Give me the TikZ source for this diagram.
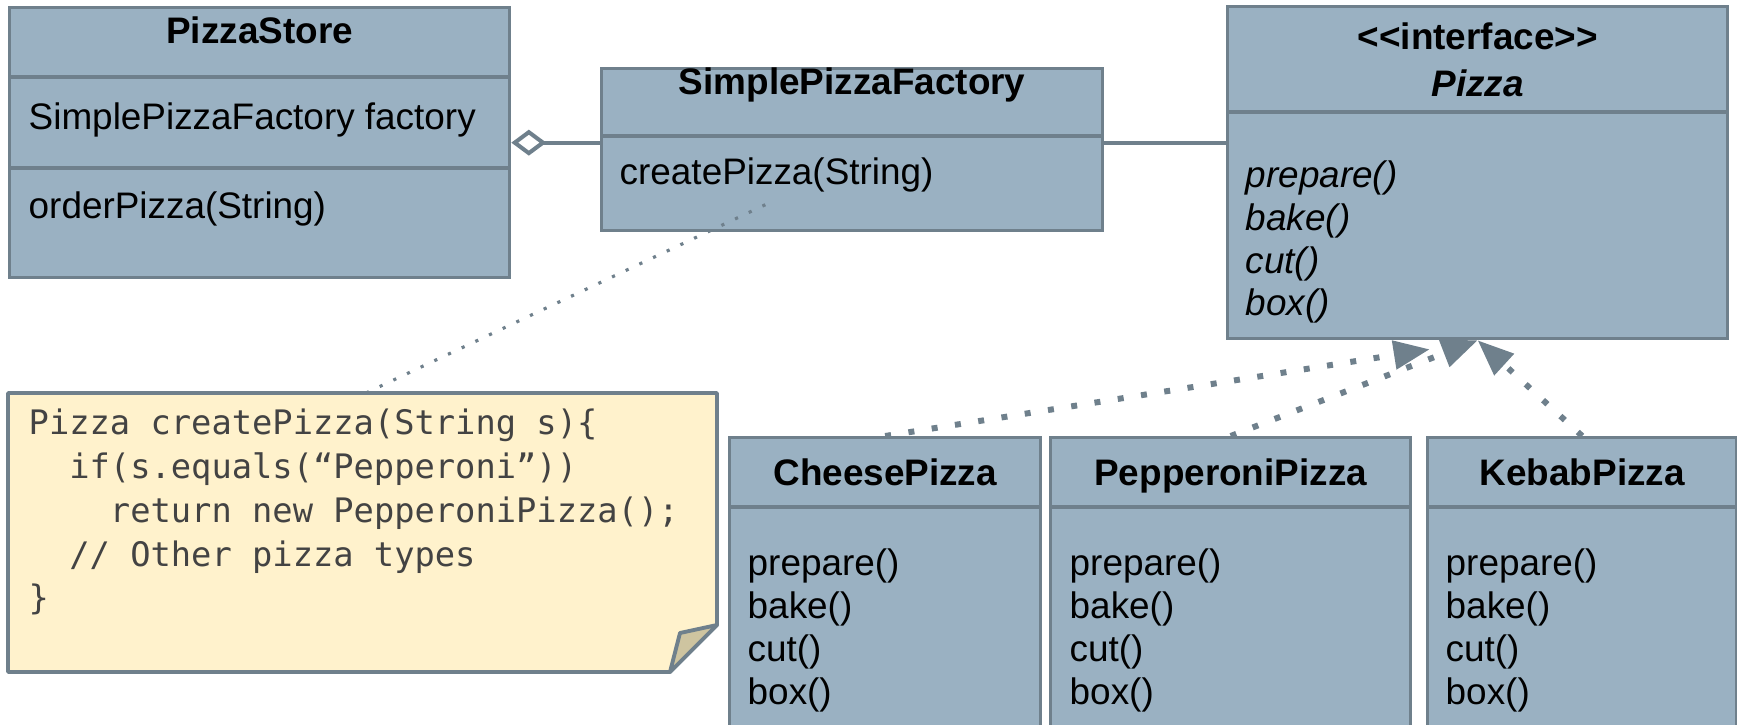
\documentclass[tikz,border=0pt]{standalone}
\usepackage{fontspec}
\setmainfont{Liberation Sans}
\newfontfamily\codefont{DejaVu Sans Mono}
\usepackage{tikz}
\usetikzlibrary{positioning}
\usetikzlibrary{backgrounds}
\usetikzlibrary{calc}
\usetikzlibrary{arrows.meta}

\definecolor{boxfill}{RGB}{154,177,194}
\definecolor{boxline}{RGB}{111,128,140}
\definecolor{notefill}{RGB}{255,242,204}
\definecolor{foldfill}{RGB}{206,196,160}
\definecolor{codegray}{RGB}{67,67,67}

\begin{document}
\begin{tikzpicture}[x=0.1mm,y=-0.1mm,
		umlbox/.style={rectangle,draw=boxline,fill=boxfill,line width=0.95pt,anchor=north west,inner sep=0pt},
		umltitle/.style={anchor=base,inner sep=0pt,align=center,font=\fontsize{10.5}{12.6}\selectfont\bfseries},
		umltext/.style={anchor=base west,inner sep=0pt,align=left,font=\fontsize{10.5}{12.3}\selectfont},
		divider/.style={draw=boxline,line width=1.1pt},
		assoc/.style={draw=boxline,line width=1.15pt},
		notelink/.style={draw=boxline,line width=0.9pt,dash pattern=on 0.9pt off 3.4pt},
		realize/.style={draw=boxline,line width=1.7pt,dash pattern=on 1.7pt off 5pt,-{Triangle[length=3.6mm,width=2.8mm]}},
		codetext/.style={anchor=base west,inner sep=0pt,align=left,text=codegray,font=\codefont\fontsize{9.6}{12.5}\selectfont}]

		\useasboundingbox (0,0) rectangle (1737,725);
		\clip (0,0) rectangle (1737,725);

		% PizzaStore
		\node[umlbox,minimum width=50mm,minimum height=27mm] at (8,6) (store) {};
		\draw[divider] ($(store.north west)+(0,71)$) -- ($(store.north east)+(0,71)$);
		\draw[divider] ($(store.north west)+(0,162)$) -- ($(store.north east)+(0,162)$);
		\node[umltitle] at ($(store.north)+(0,38)$) (storename) {PizzaStore};
		\node[umltext] at ($(store.north west)+(20,124)$) (storeattr) {SimplePizzaFactory factory};
		\node[umltext] at ($(store.north west)+(20,213)$) (storeop) {orderPizza(String)};

		% SimplePizzaFactory
		\node[umlbox,minimum width=50.1mm,minimum height=16.2mm] at (600,67) (factory) {};
		\draw[divider] ($(factory.north west)+(0,69)$) -- ($(factory.north east)+(0,69)$);
		\node[umltitle] at ($(factory.north)+(0,28)$) (factoryname) {SimplePizzaFactory};
		\node[umltext] at ($(factory.north west)+(19,118)$) (factoryop) {createPizza(String)};

		% Pizza
		\node[umlbox,minimum width=50mm,minimum height=33.2mm] at (1226,5) (pizza) {};
		\draw[divider] ($(pizza.north west)+(0,107)$) -- ($(pizza.north east)+(0,107)$);
		\node[umltitle,font=\fontsize{10.5}{13.4}\selectfont\bfseries] at ($(pizza.north)+(0,92)$) (pizzaname) {<{}<interface>{}>\\\textit{Pizza}};
		\node[umltext,font=\fontsize{10.5}{12.2}\selectfont\itshape] at ($(pizza.north west)+(19,311)$) (pizzaops)
		{prepare()\\bake()\\cut()\\box()};

		% concrete pizzas
		\node[umlbox,minimum width=31.1mm,minimum height=29.4mm] at (728,436) (cheese) {};
		\node[umlbox,minimum width=36mm,minimum height=29.4mm] at (1049,436) (pepperoni) {};
		\node[umlbox,minimum width=30.9mm,minimum height=29.4mm] at (1426,436) (kebab) {};
		\draw[divider] ($(cheese.north west)+(0,71)$) -- ($(cheese.north east)+(0,71)$);
		\draw[divider] ($(pepperoni.north west)+(0,71)$) -- ($(pepperoni.north east)+(0,71)$);
		\draw[divider] ($(kebab.north west)+(0,71)$) -- ($(kebab.north east)+(0,71)$);
		\node[umltitle] at ($(cheese.north)+(0,50)$) (cheesename) {CheesePizza};
		\node[umltitle] at ($(pepperoni.north)+(0,50)$) (pepperoniname) {PepperoniPizza};
		\node[umltitle] at ($(kebab.north)+(0,50)$) (kebabname) {KebabPizza};
		\node[umltext] at ($(cheese.north west)+(19,269)$) (cheeseops) {prepare()\\bake()\\cut()\\box()};
		\node[umltext] at ($(pepperoni.north west)+(20,269)$) (pepperoniops) {prepare()\\bake()\\cut()\\box()};
		\node[umltext] at ($(kebab.north west)+(19,269)$) (kebabops) {prepare()\\bake()\\cut()\\box()};

		% note
		\draw[boxline,fill=notefill,line width=1.1pt,line join=round] (8,393) -- (717,393) -- (717,625) -- (670,672) -- (8,672) -- cycle;
		\draw[boxline,fill=foldfill,line width=1.1pt,line join=round] (717,625) -- (680,633) -- (670,672) -- cycle;
		\node[codetext] at (28,610) (code)
		{Pizza createPizza(String s)\{\\
			\ \ if(s.equals(“Pepperoni”))\\
			\ \ \ \ return new PepperoniPizza();\\
			\ \ // Other pizza types\\
			\}};

		\coordinate (notetop) at (366,393);
		\coordinate (factoryhook) at (769,203);
		\coordinate (cheesetip) at ($(pizza.south)+(-48,9)$);

		\draw[notelink] (notetop) -- (factoryhook);
		\draw[assoc,{Diamond[open,length=3.5mm,width=2.6mm]}-] (store.east) -- (store.east -| factory.west);
		\draw[assoc] (factory.east |- store.east) -- (store.east -| pizza.west);

		\begin{scope}[on background layer]
			\draw[realize] (cheese.north) to (cheesetip);
			\draw[realize] (pepperoni.north) to (pizza.south);
			\draw[realize] (kebab.north) to (pizza.south);
		\end{scope}
	\end{tikzpicture}
\end{document}
